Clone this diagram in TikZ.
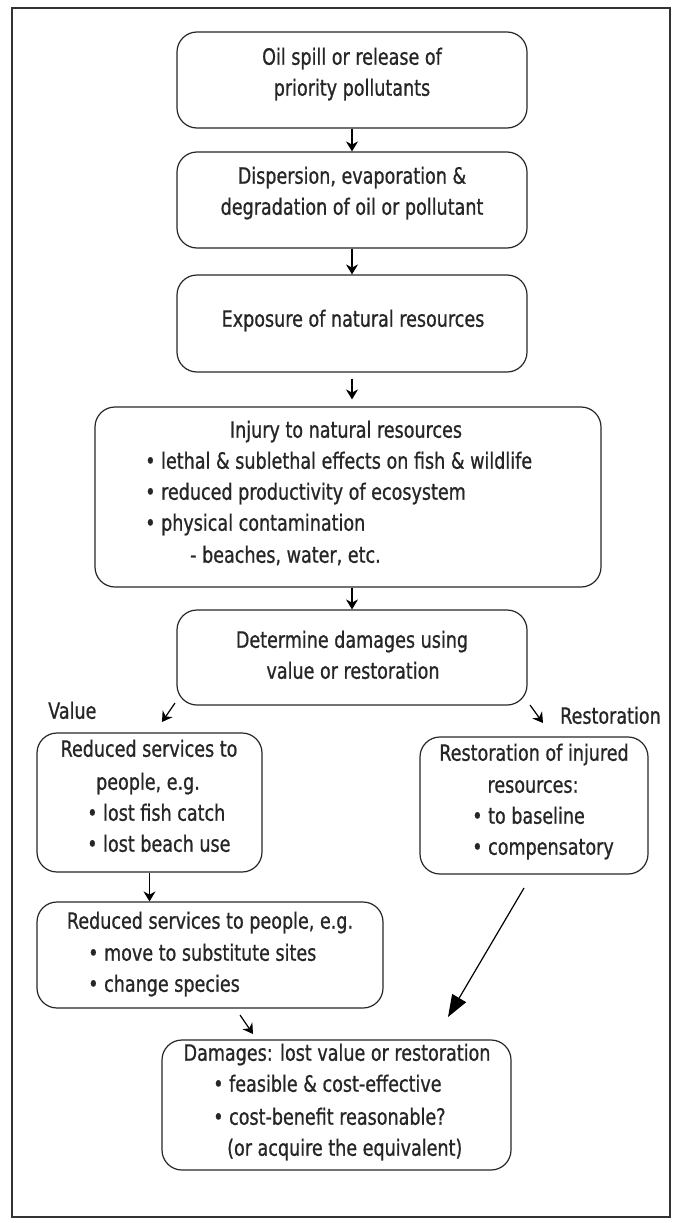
\documentclass[tikz,border=0pt]{standalone}
\usepackage{fontspec}
\setmainfont{DejaVu Sans}[FakeStretch=0.78,FakeBold=0.8]
\usetikzlibrary{arrows.meta}
\begin{document}
\begin{tikzpicture}[x=1pt,y=-1pt,
  box/.style={draw=black!85, line width=1.2pt, rounded corners=20pt, inner sep=0pt},
  txt/.style={inner sep=0pt, font=\fontsize{22.5}{31.5}\selectfont, text=black!85},
  arr/.style={line width=1.2pt, -{Stealth[length=10pt,width=12pt]}},
  bigarr/.style={line width=1.2pt, -{Triangle[length=22pt,width=16pt]}}]
\useasboundingbox (0,0) rectangle (677,1223);
\draw[line width=1.5pt, black!80] (12,8) rectangle (670,1217);

% boxes
\node[box, minimum width=350pt, minimum height=96pt] (b1) at (352,80) {};
\node[box, minimum width=350pt, minimum height=96pt] (b2) at (352,200) {};
\node[box, minimum width=350pt, minimum height=97pt] (b3) at (352,323.5) {};
\node[box, minimum width=506pt, minimum height=180pt] (b4) at (348,497) {};
\node[box, minimum width=350pt, minimum height=95pt] (b5) at (352,657.5) {};
\node[box, minimum width=225pt, minimum height=139pt] (b6) at (149.5,802.5) {};
\node[box, minimum width=228pt, minimum height=137pt] (b7) at (534,805.5) {};
\node[box, minimum width=346pt, minimum height=106pt] (b8) at (210,955) {};
\node[box, minimum width=349pt, minimum height=130pt] (b9) at (336.5,1105) {};

% texts
\node[txt, anchor=mid] (t1a) at (352,62) {Oil spill or release of};
\node[txt, anchor=mid] (t1b) at (352,93) {priority pollutants};
\node[txt, anchor=mid] (t2a) at (352,181) {Dispersion, evaporation \&};
\node[txt, anchor=mid] (t2b) at (352,212) {degradation of oil or pollutant};
\node[txt, anchor=mid] (t3a) at (353,324) {Exposure of natural resources};
\node[txt, anchor=mid] (t4a) at (346,435) {Injury to natural resources};
\node[txt, anchor=mid west] (t4b) at (145,466) {• lethal \& sublethal effects on fish \& wildlife};
\node[txt, anchor=mid west] (t4c) at (145,497) {• reduced productivity of ecosystem};
\node[txt, anchor=mid west] (t4d) at (145,528) {• physical contamination};
\node[txt, anchor=mid west] (t4e) at (190,560) {- beaches, water, etc.};
\node[txt, anchor=mid] (t5a) at (352,645) {Determine damages using};
\node[txt, anchor=mid] (t5b) at (353,676) {value or restoration};
\node[txt, anchor=mid west] (lv) at (48,716) {Value};
\node[txt, anchor=mid west] (lr) at (560,721) {Restoration};
\node[txt, anchor=mid] (t6a) at (149,754) {Reduced services to};
\node[txt, anchor=mid] (t6b) at (148,787) {people, e.g.};
\node[txt, anchor=mid west] (t6c) at (87,818) {• lost fish catch};
\node[txt, anchor=mid west] (t6d) at (87,849) {• lost beach use};
\node[txt, anchor=mid] (t7a) at (534,758) {Restoration of injured};
\node[txt, anchor=mid] (t7b) at (533,790) {resources:};
\node[txt, anchor=mid west] (t7c) at (472,821) {• to baseline};
\node[txt, anchor=mid west] (t7d) at (472,852) {• compensatory};
\node[txt, anchor=mid] (t8a) at (210,926) {Reduced services to people, e.g.};
\node[txt, anchor=mid west] (t8b) at (88,958) {• move to substitute sites};
\node[txt, anchor=mid west] (t8c) at (88,989) {• change species};
\node[txt, anchor=mid] (t9a) at (337,1058) {Damages: lost value or restoration};
\node[txt, anchor=mid west] (t9b) at (213,1089) {• feasible \& cost-effective};
\node[txt, anchor=mid west] (t9c) at (213,1122) {• cost-benefit reasonable?};
\node[txt, anchor=mid west] (t9d) at (227,1153) {(or acquire the equivalent)};

% connectors
\draw[arr] (b1) -- (b2);
\draw[arr] (b2) -- (b3);
\draw[arr, shorten <=6pt, shorten >=7pt] (b3.south) -- (b3.south |- b4.north);
\draw[arr] (b5.north |- b4.south) -- (b5.north);
\coordinate (vs) at (175,703);
\coordinate (ve) at (162,722);
\draw[arr] (vs) -- (ve);
\coordinate (rs) at (530,705);
\coordinate (re) at (543,723);
\draw[arr] (rs) -- (re);
\draw[arr] (b6.south) -- (b6.south |- b8.north);
\coordinate (ds) at (240,1015);
\coordinate (de) at (253,1034);
\draw[arr] (ds) -- (de);
\coordinate (ls) at (524,888);
\coordinate (le) at (448,1017);
\draw[bigarr] (ls) -- (le);
\end{tikzpicture}
\end{document}
